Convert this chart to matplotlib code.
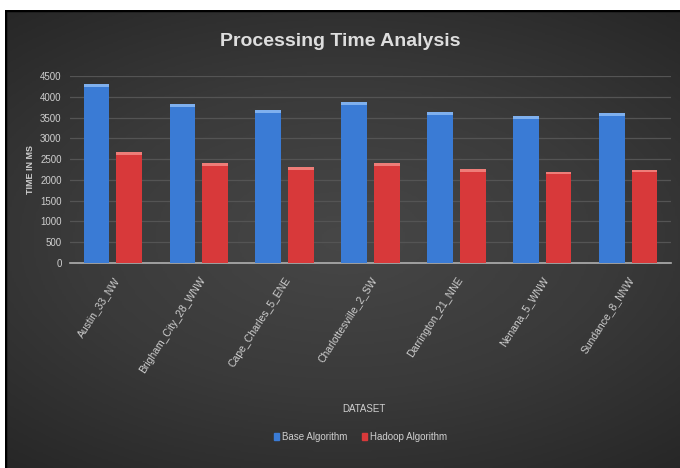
import numpy as np
import matplotlib
matplotlib.use("Agg")
import matplotlib.pyplot as plt
from matplotlib.patches import Patch
from matplotlib.colors import LinearSegmentedColormap

datasets = ["Austin_33_NW", "Brigham_City_28_WNW", "Cape_Charles_5_ENE",
            "Charlottesville_2_SW", "Darrington_21_NNE", "Nenana_5_WNW",
            "Sundance_8_NNW"]
base_ms = [4300, 3830, 3690, 3880, 3640, 3540, 3600]
hadoop_ms = [2670, 2400, 2300, 2400, 2260, 2200, 2250]
yticks = [0, 500, 1000, 1500, 2000, 2500, 3000, 3500, 4000, 4500]

blue = "#3a7bd5"
red = "#d8393a"
txt = "#cfcfcf"

plt.rcParams['font.family'] = ['Liberation Sans', 'DejaVu Sans']

fig = plt.figure(figsize=(6.8, 4.68), dpi=100, facecolor="white")

# dark radial background (the chart area sits inside a white margin)
bg = fig.add_axes([5 / 680, 0, 675 / 680, 458 / 468])
yy, xx = np.mgrid[0:1:200j, 0:1:300j]
r = np.sqrt(((xx - 0.5) * 1.0) ** 2 + ((yy - 0.5) * 1.2) ** 2)
cmap = LinearSegmentedColormap.from_list("bgc", ["#474747", "#3a3a3a", "#262626"])
bg.imshow(np.clip(r / 0.8, 0, 1), cmap=cmap, vmin=0, vmax=1,
          aspect="auto", extent=[0, 1, 0, 1], origin="lower")
bg.set_xlim(0, 1)
bg.set_ylim(0, 1)
bg.axis("off")
bg.plot([0, 0], [0, 1], color="black", lw=2.5)
bg.plot([0, 1], [1, 1], color="black", lw=2.5)

ax = fig.add_axes([70 / 680, 1 - 263 / 468, 601 / 680, 187 / 468])
ax.set_facecolor("none")

x = np.arange(len(datasets))
w = 0.30
off = 0.19
ax.bar(x - off, base_ms, w, color=blue, zorder=3)
ax.bar(x + off, hadoop_ms, w, color=red, zorder=3)
# lighter caps on bar tops
cap = 70
ax.bar(x - off, cap, w, bottom=np.array(base_ms) - cap, color="#7fb0ee", zorder=4)
ax.bar(x + off, cap, w, bottom=np.array(hadoop_ms) - cap, color="#ee7d78", zorder=4)

ax.set_xlim(-0.5, len(datasets) - 0.5)
ax.set_ylim(0, 4500)
ax.set_yticks(yticks)
ax.set_yticklabels([str(v) for v in yticks], fontsize=7, color=txt)
ax.set_xticks(x)
ax.set_xticklabels(datasets, rotation=57, ha="right", va="top",
                   rotation_mode="anchor", fontsize=7.5, color=txt)
ax.tick_params(axis="both", length=0, pad=6)
ax.tick_params(axis="x", pad=9)
ax.grid(axis="y", color="#545454", lw=0.9, zorder=0)
for s in ["top", "right", "left"]:
    ax.spines[s].set_visible(False)
ax.spines["bottom"].set_color("#b0b0b0")
ax.spines["bottom"].set_linewidth(1.2)

ax.set_ylabel("TIME IN MS", fontsize=6.5, color=txt, fontweight="bold", labelpad=4)

fig.text(0.50, 1 - 42 / 468, "Processing Time Analysis", ha="center", va="center",
         fontsize=14, fontweight="bold", color="#dedede")
fig.text(0.535, 1 - 409 / 468, "DATASET", ha="center", va="center",
         fontsize=7, color=txt)

handles = [Patch(color=blue, label="Base Algorithm"),
           Patch(color=red, label="Hadoop Algorithm")]
fig.legend(handles=handles, loc="center", bbox_to_anchor=(0.53, 1 - 437 / 468),
           ncol=2, frameon=False, fontsize=7, labelcolor=txt,
           handlelength=0.5, handleheight=0.7, handletextpad=0.3, columnspacing=1.5)

fig.savefig("out.png", dpi=100, facecolor=fig.get_facecolor())
